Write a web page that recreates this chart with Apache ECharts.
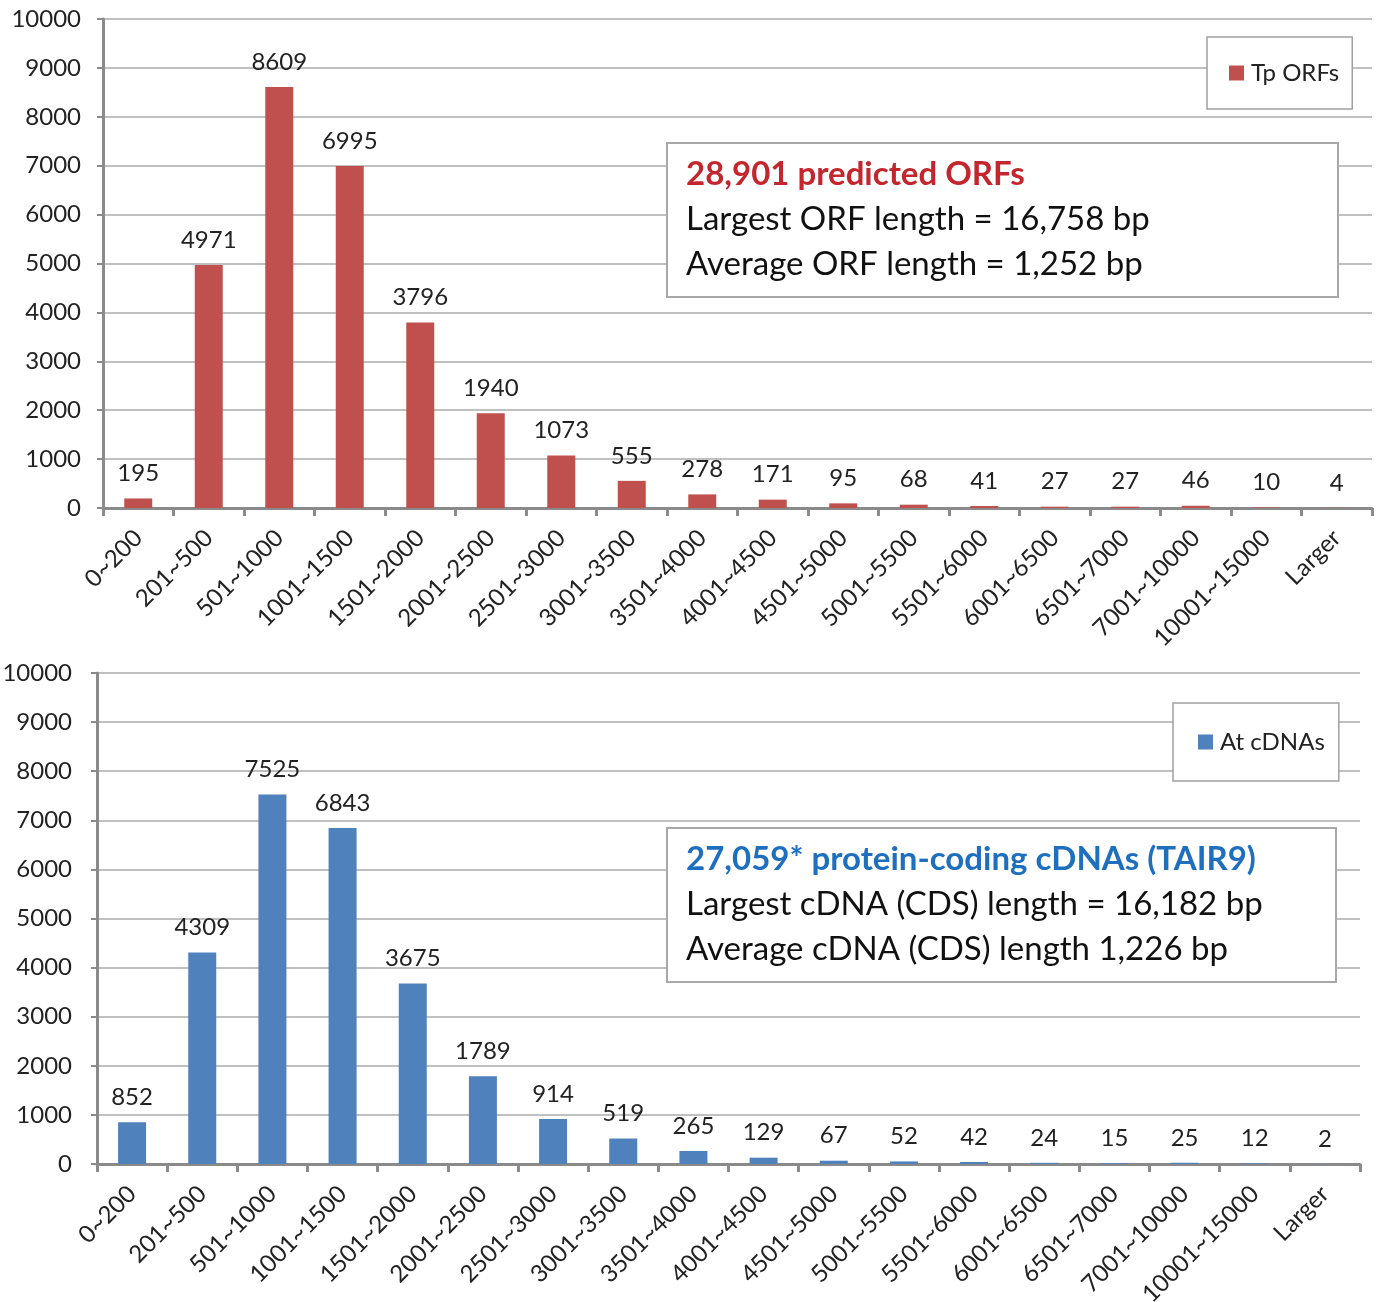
<!DOCTYPE html>
<html>
<head>
<meta charset="utf-8">
<script src="https://cdn.jsdelivr.net/npm/echarts@6/dist/echarts.min.js"></script>
<style>
    html, body { margin: 0; padding: 0; background: #fff; }
    #main { width: 1377px; height: 1302px; }
</style>
</head>
<body>
<div id="main"></div>
<script>
// length bins (bp)
var categories = ['0~200', '201~500', '501~1000', '1001~1500', '1501~2000', '2001~2500', '2501~3000',
    '3001~3500', '3501~4000', '4001~4500', '4501~5000', '5001~5500', '5501~6000', '6001~6500',
    '6501~7000', '7001~10000', '10001~15000', 'Larger'];
var tpOrfs = [195, 4971, 8609, 6995, 3796, 1940, 1073, 555, 278, 171, 95, 68, 41, 27, 27, 46, 10, 4];
var atCdnas = [852, 4309, 7525, 6843, 3675, 1789, 914, 519, 265, 129, 67, 52, 42, 24, 15, 25, 12, 2];
var yTicks = { min: 0, max: 10000, interval: 1000 };

var FONT = 'Lato, "Open Sans", sans-serif';
var axisGray = '#8a8a8a';
var gridGray = '#ababab';

function makeX(gridIndex) {
    return {
        type: 'category',
        gridIndex: gridIndex,
        data: categories,
        axisLine: { lineStyle: { color: axisGray, width: 3 } },
        axisTick: { show: true, length: 8, lineStyle: { color: axisGray, width: 3 } },
        axisLabel: { rotate: 45, interval: 0, fontSize: 24, color: '#222', fontFamily: FONT, margin: 26 }
    };
}
function makeY(gridIndex, margin) {
    return {
        type: 'value',
        gridIndex: gridIndex,
        min: yTicks.min, max: yTicks.max, interval: yTicks.interval,
        axisLine: { show: true, lineStyle: { color: axisGray, width: 3 } },
        axisTick: { show: true, length: 6, lineStyle: { color: axisGray, width: 2 } },
        axisLabel: { fontSize: 24, color: '#222', fontFamily: FONT, margin: margin,
            formatter: function (v) { return String(v); } },
        splitLine: { lineStyle: { color: gridGray, width: 1.5 } }
    };
}
function makeLegend(name, left, top, pad) {
    return {
        data: [name],
        left: left, top: top,
        orient: 'vertical',
        icon: 'rect', itemWidth: 15, itemHeight: 15, itemGap: 0,
        padding: pad,
        borderColor: '#a0a0a0', borderWidth: 1.5, backgroundColor: '#fff',
        textStyle: { fontSize: 24, color: '#222', fontFamily: FONT, padding: [0, 0, 0, 2] }
    };
}
function noteBox(x, y, w, h, head, headColor, line1, line2) {
    return {
        type: 'group', left: x, top: y, z: 100,
        children: [
            { type: 'rect', z: 100, shape: { x: 0, y: 0, width: w, height: h },
              style: { fill: '#fff', stroke: '#a8a8a8', lineWidth: 2 } },
            { type: 'text', z: 101, x: 19, y: 31, style: { text: head, fill: headColor, font: 'bold 33px ' + FONT, textVerticalAlign: 'middle' } },
            { type: 'text', z: 101, x: 19, y: 76, style: { text: line1, fill: '#111', font: '33px ' + FONT, textVerticalAlign: 'middle' } },
            { type: 'text', z: 101, x: 19, y: 121, style: { text: line2, fill: '#111', font: '33px ' + FONT, textVerticalAlign: 'middle' } }
        ]
    };
}
var barLabel = { show: true, position: 'top', distance: 13, fontSize: 24, color: '#222', fontFamily: FONT };

var chart = echarts.init(document.getElementById('main'));
var option = {
    backgroundColor: '#fff',
    animation: false,
    grid: [
        { left: 103, right: 5, top: 19, height: 489, outerBoundsMode: 'none', containLabel: false },
        { left: 97, right: 17, top: 673, height: 491, outerBoundsMode: 'none', containLabel: false }
    ],
    xAxis: [makeX(0), makeX(1)],
    yAxis: [makeY(0, 22), makeY(1, 25)],
    legend: [
        makeLegend('Tp ORFs', 1207, 37, [24, 13, 24, 22]),
        makeLegend('At cDNAs', 1173, 703, [27, 14, 27, 25])
    ],
    series: [
        { name: 'Tp ORFs', type: 'bar', xAxisIndex: 0, yAxisIndex: 0, data: tpOrfs, barWidth: 28,
          itemStyle: { color: '#c0504d' }, label: barLabel },
        { name: 'At cDNAs', type: 'bar', xAxisIndex: 1, yAxisIndex: 1, data: atCdnas, barWidth: 28,
          itemStyle: { color: '#4f81bd' }, label: barLabel }
    ],
    graphic: [
        noteBox(666, 142, 671, 154, '28,901 predicted ORFs', '#c4262e',
            'Largest ORF length = 16,758 bp', 'Average ORF length = 1,252 bp'),
        noteBox(666, 827, 669, 154, '27,059* protein-coding cDNAs (TAIR9)', '#1f6fbf',
            'Largest cDNA (CDS) length = 16,182 bp', 'Average cDNA (CDS) length 1,226 bp')
    ]
};
chart.setOption(option);
</script>
</body>
</html>
